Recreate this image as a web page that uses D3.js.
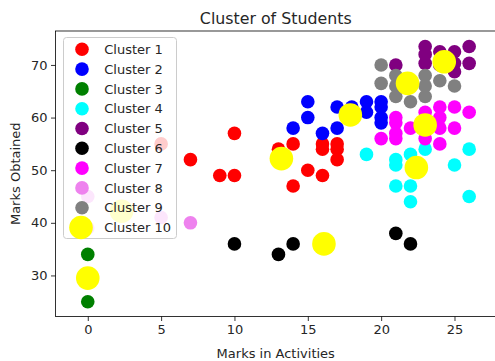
<!DOCTYPE html>
<html>
<head>
<meta charset="utf-8">
<script src="https://cdn.jsdelivr.net/npm/d3@7"></script>
<style>
  html, body { margin: 0; padding: 0; background: #fff; }
  svg { display: block; font-family: "DejaVu Sans", sans-serif; }
</style>
</head>
<body>
<svg id="chart" width="495" height="361"></svg>
<script>
// ---- data ----
const clusterNames = ["Cluster 1","Cluster 2","Cluster 3","Cluster 4","Cluster 5","Cluster 6","Cluster 7","Cluster 8","Cluster 9"];
const clusterColors = ["red","blue","green","cyan","purple","black","magenta","violet","gray"];

const c1X = [5,7,9,10,10,13,14,14,15,16,16,16,17,17,17];
const c1Y = [55,52,49,49,57,54,55,47,50,49,55,54,55,54,52];
const c2X = [14,15,15,16,17,17,18,19,19,20,20,20,20];
const c2Y = [58,63,60,57,62,58,62,63,61,63,62,60,59];
const c3X = [0,0];
const c3Y = [34,25];
const c4X = [19,21,21,21,22,22,22,23,25,26,26];
const c4Y = [53,52,51,47,53,47,44,54,51,54,45];
const c5X = [21,23,23,23,24,24,25,25,25,26,26];
const c5Y = [70,73.5,72,70.3,72.5,70,72.5,70.3,68.7,73.5,70.3];
const c6X = [10,13,14,21,22];
const c6Y = [36,34,36,38,36];
const c7X = [20,21,21,21,21,22,23,23,24,24,24,24,25,25,26];
const c7Y = [56,60,59,57,56,58,61,56,62,60,58,55,62,58,61];
const c8X = [0,0,5,7];
const c8Y = [45,39,41,40];
const c9X = [20,20,21,21,21,22,23,23,23,24,25];
const c9Y = [70,66.5,68,66,64,63,68,66,64,67,66];

const centroidX = [13.2,17.9,0,22.4,24.3,16.1,23,2.3,21.8];
const centroidY = [52.2,60.5,29.5,50.5,70.6,36,58.6,42.2,66.5];

const xTicks = [0,5,10,15,20,25];
const yTicks = [30,40,50,60,70];

const clustersX = [c1X,c2X,c3X,c4X,c5X,c6X,c7X,c8X,c9X];
const clustersY = [c1Y,c2Y,c3Y,c4Y,c5Y,c6Y,c7Y,c8Y,c9Y];

// ---- layout ----
const svg = d3.select("#chart");
const mLeft = 55.5, mRight = 498.5, mTop = 31, mBottom = 316.5;

const x = d3.scaleLinear().domain([-2.2, 28]).range([mLeft, mRight]);
const y = d3.scaleLinear().domain([22.2, 76.45]).range([mBottom, mTop]);

const rPt = 6.8, rCent = 11.8;

// points
const plot = svg.append("g");
clustersX.forEach((xs, i) => {
  const pts = xs.map((v, j) => [v, clustersY[i][j]]);
  plot.append("g").selectAll("circle").data(pts).join("circle")
    .attr("cx", d => x(d[0])).attr("cy", d => y(d[1]))
    .attr("r", rPt).attr("fill", clusterColors[i]);
});
const cents = centroidX.map((v, j) => [v, centroidY[j]]);
plot.append("g").selectAll("circle").data(cents).join("circle")
  .attr("cx", d => x(d[0])).attr("cy", d => y(d[1]))
  .attr("r", rCent).attr("fill", "yellow");

// axes
const xAxis = d3.axisBottom(x).tickValues(xTicks).tickSize(4.5).tickPadding(3.5).tickFormat(d3.format("d"));
const yAxis = d3.axisLeft(y).tickValues(yTicks).tickSize(4.5).tickPadding(3.5).tickFormat(d3.format("d"));

const gx = svg.append("g").attr("transform", `translate(0,${mBottom})`).call(xAxis);
const gy = svg.append("g").attr("transform", `translate(${mLeft},0)`).call(yAxis);
[gx, gy].forEach(g => {
  g.select(".domain").remove();
  g.selectAll("line").attr("stroke", "#000").attr("stroke-width", 0.8);
  g.selectAll("text").attr("font-size", 13).attr("fill", "#262626").attr("font-family", "DejaVu Sans");
});

// spines
svg.append("rect").attr("x", mLeft).attr("y", mTop).attr("width", mRight - mLeft).attr("height", mBottom - mTop)
  .attr("fill", "none").attr("stroke", "#000").attr("stroke-width", 0.8);

// title & labels
svg.append("text").attr("x", (mLeft + 496) / 2).attr("y", 23.5).attr("text-anchor", "middle")
  .attr("font-size", 15.8).attr("fill", "#262626").text("Cluster of Students");
svg.append("text").attr("x", (mLeft + 496) / 2).attr("y", 357.5).attr("text-anchor", "middle")
  .attr("font-size", 13).attr("fill", "#262626").text("Marks in Activities");
svg.append("text").attr("transform", `translate(19.5,${(mTop + mBottom) / 2}) rotate(-90)`).attr("text-anchor", "middle")
  .attr("font-size", 13).attr("fill", "#262626").text("Marks Obtained");

// legend
const leg = svg.append("g");
leg.append("rect").attr("x", 63.5).attr("y", 37.5).attr("width", 113).attr("height", 201).attr("rx", 3)
  .attr("fill", "white").attr("fill-opacity", 0.8).attr("stroke", "#cccccc").attr("stroke-width", 1);
const legNames = clusterNames.concat(["Cluster 10"]);
const legColors = clusterColors.concat(["yellow"]);
legNames.forEach((n, i) => {
  const cy = 49.3 + i * 19.8;
  leg.append("circle").attr("cx", i === 9 ? 81 : 82).attr("cy", cy).attr("r", i === 9 ? rCent : rPt).attr("fill", legColors[i]);
  leg.append("text").attr("x", 104.3).attr("y", cy + 4.7).attr("font-size", 13).attr("fill", "#262626").text(n);
});
</script>
</body>
</html>
